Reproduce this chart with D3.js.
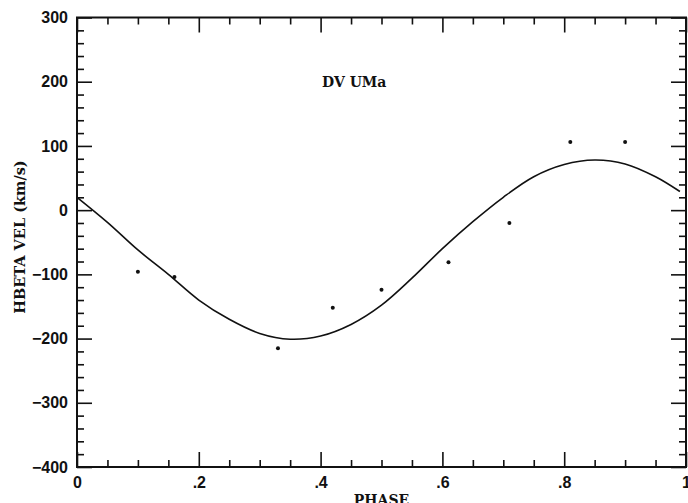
<!DOCTYPE html>
<html>
<head>
<meta charset="utf-8">
<script src="https://cdn.jsdelivr.net/npm/d3@7/dist/d3.min.js"></script>
<style>
	body { margin: 0; background: #fff; }
	svg { display: block; }
	.tick text { font-family: "Liberation Sans", Arial, sans-serif; font-weight: bold; font-size: 16px; fill: #111; }
	.tick line { stroke: #111; stroke-width: 1.6; }
	.domain { display: none; }
</style>
</head>
<body>
<svg id="chart"></svg>
<script>
// observed radial velocities
var obsPhase = [0.10, 0.16, 0.33, 0.42, 0.50, 0.61, 0.71, 0.81, 0.90];
var obsVel = [-96, -104, -215, -152, -124, -81, -20, 106, 106];

// fitted curve
var fitPhase = [0, 0.05, 0.10, 0.15, 0.20, 0.25, 0.30, 0.35, 0.40, 0.45, 0.50, 0.55, 0.60, 0.65, 0.70, 0.75, 0.80, 0.85, 0.90, 0.95, 0.99];
var fitVel = [20, -19, -62, -100, -140, -170, -192, -201, -196, -178, -148, -106, -60, -18, 20, 52, 71, 78, 72, 52, 29];

var xMajor = [0, 0.2, 0.4, 0.6, 0.8, 1];
var xTickLabels = ["0", ".2", ".4", ".6", ".8", "1"];
var yMajor = [-400, -300, -200, -100, 0, 100, 200, 300];
var yTickLabels = ["\u2212400", "\u2212300", "\u2212200", "\u2212100", "0", "100", "200", "300"];

var width = 688, height = 503;
var margin = {top: 17.5, right: 2, bottom: 36, left: 77};
var w = width - margin.left - margin.right,
	h = height - margin.top - margin.bottom;

var x = d3.scaleLinear().domain([0, 1]).range([0, w]);
var y = d3.scaleLinear().domain([-400, 300]).range([h, 0]);

var svg = d3.select("#chart")
	.attr("width", width)
	.attr("height", height)
	.append("g")
	.attr("transform", "translate(" + margin.left + "," + margin.top + ")");

var xMinor = d3.range(0, 1.0001, 0.05).filter(function(d) {
	return Math.abs(d * 5 - Math.round(d * 5)) > 1e-6;
});
var yMinor = d3.range(-400, 301, 20).filter(function(d) { return d % 100 !== 0; });

// Axes (ticks point inwards on all four sides)
svg.append("g")
	.attr("transform", "translate(0," + h + ")")
	.call(d3.axisBottom(x).tickValues(xMajor).tickSize(-15).tickPadding(10)
		.tickFormat(function(d, i) { return xTickLabels[i]; }));
svg.append("g")
	.attr("transform", "translate(0," + h + ")")
	.call(d3.axisBottom(x).tickValues(xMinor).tickSize(-7).tickFormat(""));
svg.append("g")
	.call(d3.axisTop(x).tickValues(xMajor).tickSize(-15).tickFormat(""));
svg.append("g")
	.call(d3.axisTop(x).tickValues(xMinor).tickSize(-7).tickFormat(""));

svg.append("g")
	.call(d3.axisLeft(y).tickValues(yMajor).tickSize(-15).tickPadding(9)
		.tickFormat(function(d, i) { return yTickLabels[i]; }));
svg.append("g")
	.call(d3.axisLeft(y).tickValues(yMinor).tickSize(-7).tickFormat(""));
svg.append("g")
	.attr("transform", "translate(" + w + ",0)")
	.call(d3.axisRight(y).tickValues(yMajor).tickSize(-15).tickFormat(""));
svg.append("g")
	.attr("transform", "translate(" + w + ",0)")
	.call(d3.axisRight(y).tickValues(yMinor).tickSize(-7).tickFormat(""));

// Frame
svg.append("rect")
	.attr("width", w)
	.attr("height", h)
	.attr("fill", "none")
	.attr("stroke", "#111")
	.attr("stroke-width", 2);

// Fit
var fit = fitPhase.map(function(p, i) { return {x: p, y: fitVel[i]}; });
svg.append("path")
	.datum(fit)
	.attr("fill", "none")
	.attr("stroke", "#111")
	.attr("stroke-width", 1.6)
	.attr("d", d3.line()
		.x(function(d) { return x(d.x); })
		.y(function(d) { return y(d.y); })
		.curve(d3.curveCatmullRom));

// Points
svg.selectAll(".dot")
	.data(obsPhase)
	.enter().append("circle")
	.attr("class", "dot")
	.attr("cx", function(d) { return x(d); })
	.attr("cy", function(d, i) { return y(obsVel[i]); })
	.attr("r", 2)
	.attr("fill", "#111");

// Labels
svg.append("text")
	.attr("x", w / 2)
	.attr("y", h + 38)
	.style("text-anchor", "middle")
	.style("font-family", "'DejaVu Serif', serif")
	.style("font-weight", "bold")
	.style("font-size", "14px")
	.style("fill", "#111")
	.text("PHASE");

svg.append("text")
	.attr("transform", "rotate(-90)")
	.attr("x", -219.5)
	.attr("y", -52)
	.style("text-anchor", "middle")
	.style("font-family", "'DejaVu Serif', serif")
	.style("font-weight", "bold")
	.style("font-size", "14.5px")
	.style("fill", "#111")
	.text("HBETA VEL (km/s)");

svg.append("text")
	.attr("x", 245)
	.attr("y", 69)
	.style("font-family", "'DejaVu Serif', serif")
	.style("font-weight", "bold")
	.style("font-size", "14px")
	.style("fill", "#111")
	.text("DV UMa");
</script>
</body>
</html>
